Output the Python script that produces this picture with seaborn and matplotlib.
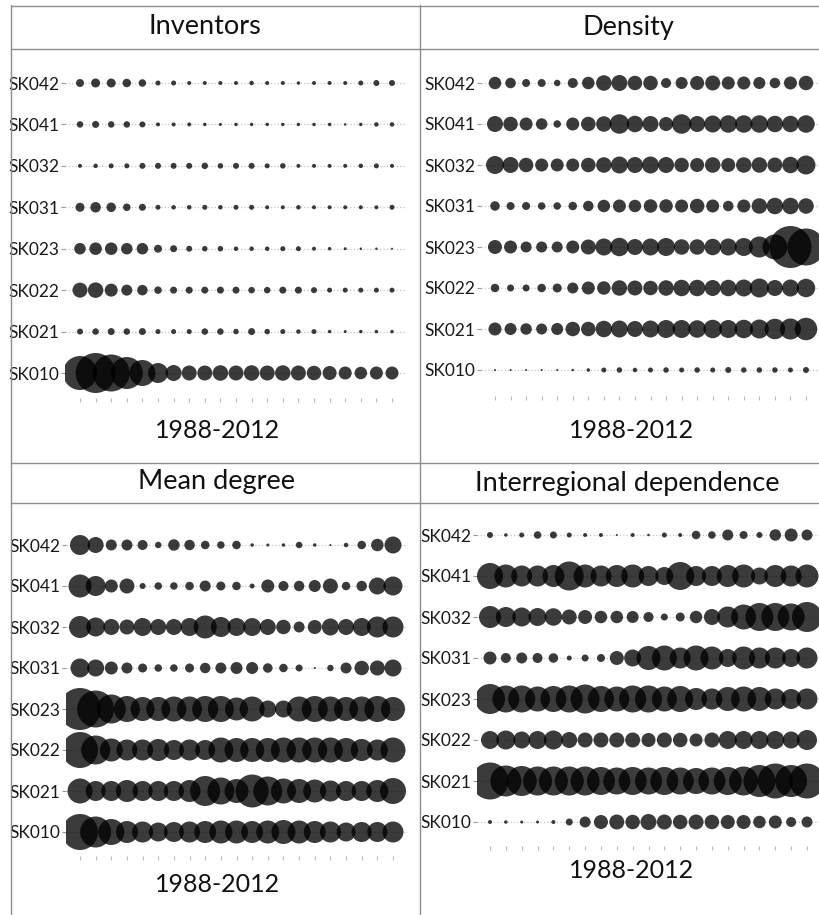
import numpy as np
import pandas as pd
import matplotlib
matplotlib.use("Agg")
import matplotlib.pyplot as plt
import seaborn as sns
from matplotlib.lines import Line2D

# ---------------- data (bubble diameters, px) ----------------
regions = ["SK010", "SK021", "SK022", "SK023", "SK031", "SK032", "SK041", "SK042"]
n_periods = 21
period_label = "1988-2012"
titles = ["Inventors", "Density", "Mean degree", "Interregional dependence"]

inventors = {
    "SK042": [8, 9, 9, 8.5, 7.5, 5, 5, 4, 4, 4, 4, 4.5, 4, 4, 3.5, 4, 4, 4, 5, 6, 6],
    "SK041": [6.5, 7, 6.5, 6.5, 6, 4, 4, 4, 3.5, 3, 3.5, 3.5, 3.5, 3.5, 3.5, 3.5, 3.5, 2.5, 3.5, 4.5, 4.5],
    "SK032": [4, 4.5, 5, 5, 6, 6, 6, 6, 6.5, 5.5, 6, 6, 5, 5.5, 4, 4, 4, 4, 4.5, 5, 4],
    "SK031": [9, 10.5, 9.5, 7.5, 7, 5, 4.5, 4.5, 5, 4.5, 5, 5, 4, 4, 4.5, 4, 4, 4, 4, 4, 5],
    "SK023": [11.5, 12.5, 12.5, 11.5, 11.5, 8, 7, 6, 5.5, 5.5, 4.5, 4.5, 4.5, 5, 5, 4, 3.5, 3, 2.5, 2.5, 2],
    "SK022": [15, 15.5, 13, 11, 10.5, 7.5, 7, 7, 7, 7, 7, 6.5, 6.5, 7, 7, 6, 5, 5, 5, 5, 5],
    "SK021": [6, 6.5, 7, 6.5, 7, 5, 5, 5, 6.5, 6.5, 5.5, 7, 5.5, 5, 4.5, 5, 3.5, 3, 3.5, 3.5, 3.5],
    "SK010": [34, 40, 37, 32, 26, 20, 16, 15, 15, 15.5, 15, 15.5, 15, 15.5, 15, 14.5, 14, 13, 12.5, 13, 13],
}
density = {
    "SK042": [12.5, 10.5, 8, 8, 6.5, 10, 12.5, 15.5, 16, 14.5, 14.5, 10, 12, 14, 15, 13, 13, 12, 10.5, 13, 14.5],
    "SK041": [16, 14.5, 13, 11.5, 7.5, 13, 14.5, 15.5, 19.5, 16.5, 16, 14, 19.5, 16, 17, 17.5, 17.5, 17.5, 16.5, 16.5, 17.5],
    "SK032": [18, 16, 14.5, 13, 13, 13, 14.5, 15.5, 17, 16, 17, 16, 14.5, 14, 15.5, 14, 15.5, 15.5, 15, 16.5, 19],
    "SK031": [9.5, 8, 8, 7.5, 7.5, 8.5, 10.5, 12.5, 13, 12.5, 13.5, 13.5, 13, 14.5, 13, 10.5, 13, 15.5, 16.5, 16.5, 15.5],
    "SK023": [14, 13, 11, 11, 11, 13, 15, 17, 18.5, 16, 17, 18, 15.5, 15.5, 16.5, 17, 18, 21, 25, 42, 37],
    "SK022": [8.5, 7, 7, 8.5, 9, 11, 13, 13.5, 15.5, 15, 14.5, 15.5, 16.5, 16.5, 16, 16.5, 17, 19, 16, 17, 18.5],
    "SK021": [13, 12, 11.5, 11, 12, 14.5, 14.5, 16.5, 17, 16, 17, 18, 18, 17.5, 18.5, 18, 18.5, 19, 20.5, 21, 22.5],
    "SK010": [2, 2, 2, 2, 2, 2.5, 3.5, 5, 5.5, 4.5, 5, 5.5, 5, 5.5, 5, 6, 5.5, 5.5, 5.5, 5, 6],
}
mean_degree = {
    "SK042": [20, 16, 11, 11, 10, 6.5, 11.5, 10.5, 8.5, 7.5, 8.5, 3.5, 3, 3.5, 6.5, 3.5, 2, 4.5, 8.5, 12.5, 17],
    "SK041": [23, 20, 13, 15, 6, 7.5, 7.5, 8.5, 11, 9, 8.5, 5, 13, 10, 10.5, 12, 15, 8.5, 10.5, 17, 19],
    "SK032": [22, 19, 16, 15, 18, 16, 16, 18, 23, 20, 18, 18, 16, 14.5, 11, 14, 17, 16, 18, 21, 21],
    "SK031": [19, 17, 13, 11, 9, 7.5, 7.5, 9, 10.5, 11, 12, 12, 9.5, 8.5, 7, 2, 6.5, 11, 14.5, 15, 17],
    "SK023": [42, 37, 29, 26, 24, 24, 25, 25, 26, 26, 23, 25, 17, 17, 25, 26, 25, 24, 25, 26, 24],
    "SK022": [36, 29, 23, 21, 21, 22, 20, 21, 20, 25, 24, 24, 24, 25, 25, 25, 25, 24, 22, 21, 25],
    "SK021": [25, 20, 20, 22, 20, 20, 20, 22, 30, 27, 24, 33, 29, 25, 24, 23, 21, 20, 20, 22, 26],
    "SK010": [36, 31, 26, 22, 21, 19, 20, 21, 22, 23, 23, 22, 23, 24, 23, 22, 21, 19, 20, 20, 21],
}
interregional = {
    "SK042": [6, 3.5, 5, 7.5, 7, 5, 4, 4, 2, 4, 2.5, 5, 4, 8.5, 7.5, 11, 8, 6, 11.5, 13, 11],
    "SK041": [26, 23, 21, 21, 22, 29, 23, 21, 22, 23, 20, 18, 28, 20, 20, 22, 23, 17, 22, 21, 23],
    "SK032": [22, 20, 19, 18, 17.5, 15, 14, 12.5, 12.5, 12, 10, 7, 9, 12.5, 16, 21, 25, 28, 28, 27, 30],
    "SK031": [13, 10, 11, 10, 9.5, 5, 7, 8, 14, 17, 24, 25, 21, 25, 23, 18, 23, 21, 21, 18, 21],
    "SK023": [30, 27, 27, 25, 26, 27, 29, 26, 25, 27, 27, 25, 26, 22, 21, 24, 25, 24, 21, 20, 21],
    "SK022": [18, 19, 17, 18, 19, 16, 15, 15, 15, 15, 14, 15, 14.5, 13, 15, 18, 18, 18, 18, 17, 20],
    "SK021": [37, 31, 30, 29, 29, 29, 29, 28, 27, 28, 27, 28, 27, 26, 27, 28, 29, 32, 35, 32, 35],
    "SK010": [4, 3.5, 3, 3, 4, 7, 11, 14, 15, 14.5, 16, 15, 14.5, 15, 14.5, 14, 14, 12.5, 13, 10, 11],
}
panels_data = [inventors, density, mean_degree, interregional]

# ---------------- layout (pixels) ----------------
W, H = 819, 915
# L, R, T, B, first-x, last-x, top-row-y, bottom-row-y
layouts = [
    (65, 407, 58, 398, 80, 392, 83, 373),
    (481, 820, 58, 396, 495, 806, 83, 370),
    (66, 408, 520, 856, 80, 393, 545, 832),
    (477, 821, 510, 846, 490, 807, 535, 822),
]
title_pos = [(205, 26), (628, 27), (217, 482), (627, 483)]
xlabel_pos = [(218, 430), (632, 430), (218, 885), (632, 871)]

sns.set_theme(style="white")
plt.rcParams["font.family"] = ["Lato", "DejaVu Sans"]

fig = plt.figure(figsize=(W / 100, H / 100), dpi=100)
fig.patch.set_facecolor("white")

px2pt = 0.72
for data, lay, title, tp, xp in zip(panels_data, layouts, titles, title_pos, xlabel_pos):
    L, R, T, B, x0, x1, yt, yb = lay
    ax = fig.add_axes([L / W, 1 - B / H, (R - L) / W, (B - T) / H])
    rows = []
    for ri, reg in enumerate(regions):
        for pi, d in enumerate(data[reg]):
            rows.append({"period": pi, "region": ri, "diam": d})
    df = pd.DataFrame(rows)
    df["area"] = df["diam"] ** 2
    amax = df["area"].max()
    sns.scatterplot(data=df, x="period", y="region", size="area",
                    sizes=(0, amax * px2pt ** 2), size_norm=(0, amax),
                    color="black", alpha=0.77, linewidth=0, legend=False, ax=ax)
    sx = (x1 - x0) / (n_periods - 1)
    sy = (yb - yt) / (len(regions) - 1)
    ax.set_xlim(-(x0 - L) / sx, (n_periods - 1) + (R - x1) / sx)
    ax.set_ylim(-(B - yb) / sy, (len(regions) - 1) + (yt - T) / sy)
    ax.set_yticks(range(len(regions)))
    ax.set_yticklabels(regions)
    ax.set_xticks(range(n_periods))
    ax.set_xticklabels([])
    ax.set_xlabel("")
    ax.set_ylabel("")
    for s in ax.spines.values():
        s.set_visible(False)
    ax.grid(axis="y", linestyle=":", color="#c4c4c4", linewidth=0.9)
    ax.grid(axis="x", visible=False)
    ax.set_axisbelow(True)
    ax.tick_params(axis="y", left=True, length=3, width=0.8, color="#999999",
                   pad=1, labelsize=12.5, labelcolor="#1a1a1a")
    ax.tick_params(axis="x", bottom=True, length=3, width=0.8, color="#bbbbbb")
    ax.set_facecolor("none")
    fig.text(tp[0] / W, 1 - tp[1] / H, title, ha="center", va="center",
             fontsize=19.5, color="#111111")
    fig.text(xp[0] / W, 1 - xp[1] / H, period_label, ha="center", va="center",
             fontsize=18, color="#111111")

# panel frames
line_kw = dict(color="#8c8c8c", linewidth=1.0, transform=fig.transFigure)
def hline(y, xa=11, xb=819):
    fig.add_artist(Line2D([xa / W, xb / W], [1 - y / H, 1 - y / H], **line_kw))
def vline(x, ya=5, yb=915):
    fig.add_artist(Line2D([x / W, x / W], [1 - ya / H, 1 - yb / H], **line_kw))

vline(11)
vline(420)
hline(5.5)
hline(48.5)
hline(462.5)
hline(503.5)

fig.savefig("out.png", dpi=100, facecolor="white")
